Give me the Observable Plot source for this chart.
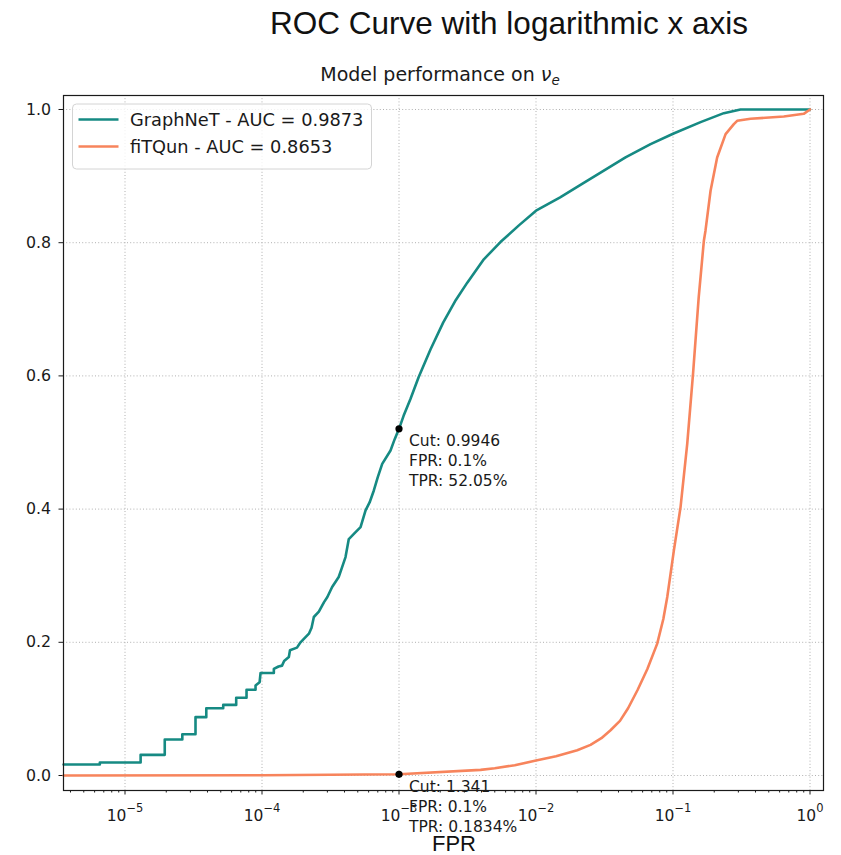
<!DOCTYPE html>
<html>
<head>
<meta charset="utf-8">
<script src="https://cdn.jsdelivr.net/npm/d3@7"></script>
<script src="https://cdn.jsdelivr.net/npm/@observablehq/plot@0.6"></script>
<style>
  html, body { margin: 0; padding: 0; background: #fff; }
  #chart svg { display: block; }
</style>
</head>
<body>
<div id="chart"></div>
<script>
// ROC curves (false positive rate vs true positive rate) for the two reconstructions
const graphnetFPR = [3.56e-6, 6.55e-6, 6.55e-6, 1.30e-5, 1.30e-5, 1.95e-5, 1.95e-5, 2.62e-5, 2.62e-5, 3.27e-5, 3.27e-5,
  3.92e-5, 3.92e-5, 5.21e-5, 5.21e-5, 6.48e-5, 6.48e-5, 7.71e-5, 7.71e-5, 8.97e-5, 8.97e-5, 9.6e-5, 9.76e-5,
  1.22e-4, 1.22e-4, 1.32e-4, 1.40e-4, 1.45e-4, 1.57e-4, 1.60e-4, 1.80e-4, 1.91e-4, 2.2e-4, 2.3e-4, 2.39e-4,
  2.6e-4, 2.83e-4, 3.0e-4, 3.25e-4, 3.63e-4, 3.8e-4, 4.07e-4, 4.3e-4, 4.8e-4, 5.24e-4, 5.7e-4, 6.1e-4,
  6.55e-4, 7.0e-4, 7.54e-4, 8.67e-4, 9.3e-4, 1.0e-3, 1.08e-3, 1.21e-3, 1.39e-3, 1.7e-3, 2.1e-3, 2.6e-3,
  3.15e-3, 4.16e-3, 5.5e-3, 7.5e-3, 1.0e-2, 1.5e-2, 2.2e-2, 3.0e-2, 4.5e-2, 6.86e-2, 0.101, 0.159, 0.235,
  0.311, 0.5, 1.0];
const graphnetTPR = [0.0165, 0.0165, 0.0195, 0.0195, 0.031, 0.031, 0.054, 0.054, 0.062, 0.062, 0.0876,
  0.0876, 0.101, 0.101, 0.106, 0.106, 0.1167, 0.1167, 0.1287, 0.1287, 0.135, 0.140, 0.154,
  0.154, 0.160, 0.1637, 0.165, 0.172, 0.178, 0.188, 0.192, 0.200, 0.213, 0.222, 0.238,
  0.246, 0.260, 0.268, 0.283, 0.298, 0.310, 0.328, 0.355, 0.365, 0.373, 0.398, 0.410,
  0.428, 0.448, 0.468, 0.488, 0.505, 0.5205, 0.540, 0.565, 0.598, 0.640, 0.680, 0.714,
  0.740, 0.775, 0.801, 0.826, 0.848, 0.868, 0.889, 0.906, 0.928, 0.948, 0.964, 0.981, 0.9945,
  1.0, 1.0, 1.0];

const fitqunFPR = [3.56e-6, 1.0e-4, 1.0e-3, 3.94e-3, 5.0e-3, 7.0e-3, 1.0e-2, 1.4e-2, 2.0e-2, 2.5e-2, 3.0e-2,
  3.5e-2, 4.1e-2, 4.7e-2, 5.5e-2, 6.5e-2, 7.67e-2, 8.5e-2, 9.08e-2, 0.1015, 0.1135, 0.127, 0.140, 0.154,
  0.168, 0.1726, 0.188, 0.21, 0.242, 0.278, 0.294, 0.368, 0.644, 0.90, 1.0];
const fitqunTPR = [0.0, 0.0003, 0.001834, 0.0085, 0.011, 0.0155, 0.0225, 0.029, 0.038, 0.046, 0.056,
  0.068, 0.082, 0.101, 0.128, 0.160, 0.198, 0.235, 0.268, 0.338, 0.403, 0.498, 0.603, 0.718,
  0.803, 0.818, 0.878, 0.928, 0.963, 0.978, 0.983, 0.986, 0.9895, 0.9935, 1.0];

// Working points marked on each curve
const cutFPR = [1.0e-3, 1.0e-3];
const cutTPR = [0.5205, 0.001834];
const cutLabels = ["Cut: 0.9946\nFPR: 0.1%\nTPR: 52.05%", "Cut: 1.341\nFPR: 0.1%\nTPR: 0.1834%"];

const seriesNames = ["GraphNeT - AUC = 0.9873", "fiTQun - AUC = 0.8653"];
const seriesColors = ["#168a83", "#f7845c"];

const xTicks = [1e-5, 1e-4, 1e-3, 1e-2, 1e-1, 1];
const xTickLabels = ["10^−5", "10^−4", "10^−3", "10^−2", "10^−1", "10^0"];
const yTicks = [0, 0.2, 0.4, 0.6, 0.8, 1.0];
const yTickLabels = ["0.0", "0.2", "0.4", "0.6", "0.8", "1.0"];

const graphnet = graphnetFPR.map((f, i) => ({fpr: f, tpr: graphnetTPR[i]}));
const fitqun = fitqunFPR.map((f, i) => ({fpr: f, tpr: fitqunTPR[i]}));
const cuts = cutFPR.map((f, i) => ({fpr: f, tpr: cutTPR[i], label: cutLabels[i]}));

const xDomain = [Math.pow(10, -5.449), Math.pow(10, 0.0985)];
const yDomain = [-0.0225, 1.021];

// minor log ticks (2..9 within each decade)
const minorTicks = [];
for (let e = -6; e <= 0; e++) {
  for (let m = 2; m <= 9; m++) {
    const v = m * Math.pow(10, e);
    if (v > xDomain[0] && v < xDomain[1]) minorTicks.push(v);
  }
}
const xLabelOf = new Map(xTicks.map((t, i) => [t, xTickLabels[i]]));
const yLabelOf = new Map(yTicks.map((t, i) => [t, yTickLabels[i]]));

const W = 841, H = 855;
const grid = {stroke: "#b0b0b0", strokeOpacity: 1, strokeWidth: 1, strokeDasharray: "1,2.2"};

const svg = Plot.plot({
  width: W,
  height: H,
  marginLeft: 63,
  marginRight: 18,
  marginTop: 95,
  marginBottom: 65,
  style: {fontFamily: "DejaVu Sans", fontSize: "15.5px", color: "#1a1a1a", background: "#fff"},
  x: {type: "log", domain: xDomain, label: null},
  y: {domain: yDomain, label: null},
  marks: [
    Plot.gridX(xTicks, grid),
    Plot.gridY(yTicks, grid),
    Plot.axisX(minorTicks, {tickSize: 2.5, tickFormat: () => "", label: null, stroke: "#1a1a1a"}),
    Plot.axisX(xTicks, {tickSize: 4.5, tickPadding: 15, tickFormat: d => xLabelOf.get(d), label: null,
      fontSize: 15.5, stroke: "#1a1a1a"}),
    Plot.axisY(yTicks, {tickSize: 4.5, tickPadding: 8, tickFormat: d => yLabelOf.get(d), label: null,
      fontSize: 15.8, stroke: "#1a1a1a"}),
    Plot.line(graphnet, {x: "fpr", y: "tpr", stroke: seriesColors[0], strokeWidth: 2.6}),
    Plot.line(fitqun, {x: "fpr", y: "tpr", stroke: seriesColors[1], strokeWidth: 2.6}),
    Plot.dot(cuts, {x: "fpr", y: "tpr", r: 3.6, fill: "black"}),
    Plot.text(cuts, {x: "fpr", y: "tpr", text: "label", textAnchor: "start", lineAnchor: "top",
      dx: 10, dy: 3, fontSize: 15.5, lineHeight: 1.3, fill: "#1a1a1a"}),
    Plot.frame({stroke: "#1a1a1a", strokeWidth: 1.2})
  ]
});

const s = d3.select(svg);

// decade labels: base "10" with a raised exponent
s.selectAll('g[aria-label="x-axis tick label"] text').each(function () {
  const m = (this.textContent || "").match(/^10\^(.+)$/);
  if (!m) return;
  const t = d3.select(this);
  t.text(null);
  t.append("tspan").text("10");
  t.append("tspan").attr("dy", -9.5).style("font-size", "11.5px").text(m[1]);
});

// titles and x label
s.append("text")
  .attr("x", 509).attr("y", 34)
  .attr("text-anchor", "middle")
  .style("font-family", "'Liberation Sans', Arial, sans-serif")
  .style("font-size", "31.5px")
  .attr("fill", "#111")
  .text("ROC Curve with logarithmic x axis");

const sub = s.append("text")
  .attr("x", 440).attr("y", 81)
  .attr("text-anchor", "middle")
  .style("font-family", "'DejaVu Sans', sans-serif")
  .style("font-size", "19px")
  .attr("fill", "#1a1a1a");
sub.append("tspan").text("Model performance on ");
sub.append("tspan").style("font-style", "italic").text("ν");
sub.append("tspan").style("font-style", "italic").style("font-size", "13.5px").attr("dy", 4).text("e");

s.append("text")
  .attr("x", 454).attr("y", 851)
  .attr("text-anchor", "middle")
  .style("font-family", "'Liberation Sans', Arial, sans-serif")
  .style("font-size", "22px")
  .attr("fill", "#111")
  .text("FPR");

// legend
const legend = s.append("g");
legend.append("rect")
  .attr("x", 72.5).attr("y", 104).attr("width", 299).attr("height", 65)
  .attr("rx", 4).attr("ry", 4)
  .attr("fill", "white").attr("fill-opacity", 0.8)
  .attr("stroke", "#d4d4d4").attr("stroke-width", 1);
seriesNames.forEach((name, i) => {
  const y = 119.5 + i * 27;
  legend.append("line")
    .attr("x1", 78.5).attr("x2", 118.5).attr("y1", y).attr("y2", y)
    .attr("stroke", seriesColors[i]).attr("stroke-width", 2.6);
  legend.append("text")
    .attr("x", 130).attr("y", y).attr("dy", "0.36em")
    .attr("text-anchor", "start")
    .style("font-family", "'DejaVu Sans', sans-serif")
    .style("font-size", "17.8px")
    .attr("fill", "#1a1a1a")
    .text(name);
});

document.getElementById("chart").appendChild(svg);
</script>
</body>
</html>
